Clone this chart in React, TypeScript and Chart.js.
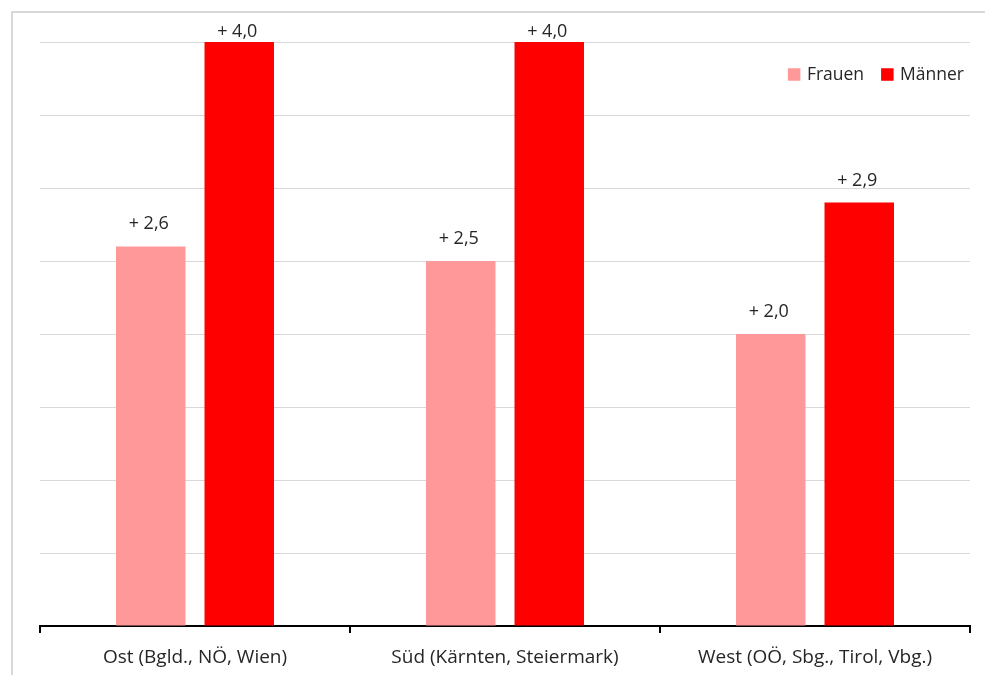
import React, { useEffect, useRef } from "react";
import { Chart, registerables } from "chart.js";

Chart.register(...registerables);

// Regions and the increase per series
const regions = [
  "Ost (Bgld., NÖ, Wien)",
  "Süd (Kärnten, Steiermark)",
  "West (OÖ, Sbg., Tirol, Vbg.)",
];
const frauen = [2.6, 2.5, 2.0];
const maenner = [4.0, 4.0, 2.9];
const seriesNames = ["Frauen", "Männer"];
const seriesColors = ["#FF9999", "#FF0000"];
const yMax = 4;
const yStep = 0.5;

const FONT = "'Open Sans', 'Noto Sans', sans-serif";
const TEXT = "#262626";

const fmt = (v: number) => "+ " + v.toFixed(1).replace(".", ",");

// Signed value above each bar, kept inside the frame near the top
const valueLabels = {
  id: "valueLabels",
  afterDatasetsDraw(chart: any) {
    const { ctx, chartArea } = chart;
    ctx.save();
    ctx.font = `18px ${FONT}`;
    ctx.fillStyle = TEXT;
    ctx.textAlign = "center";
    ctx.textBaseline = "alphabetic";
    chart.data.datasets.forEach((ds: any, i: number) => {
      chart.getDatasetMeta(i).data.forEach((bar: any, j: number) => {
        const y = Math.max(bar.y - 17, chartArea.top - 5);
        ctx.fillText(fmt(ds.data[j]), bar.x - 2, y);
      });
    });
    ctx.restore();
  },
};

// Compact legend in the upper right corner of the plot
const cornerLegend = {
  id: "cornerLegend",
  afterDraw(chart: any) {
    const { ctx, chartArea } = chart;
    ctx.save();
    ctx.font = `17.5px ${FONT}`;
    const box = 12.5;
    const gapText = 6.5;
    const gapItem = 17;
    const items = chart.data.datasets.map((ds: any) => ({
      label: ds.label,
      color: ds.backgroundColor,
      w: ctx.measureText(ds.label).width,
    }));
    const total =
      items.reduce((s: number, it: any) => s + box + gapText + it.w, 0) +
      gapItem * (items.length - 1);
    let x = chartArea.right - 6 - total;
    const cy = chartArea.top + 32.5;
    ctx.textBaseline = "middle";
    ctx.textAlign = "left";
    items.forEach((it: any) => {
      ctx.fillStyle = it.color;
      ctx.fillRect(x, cy - box / 2, box, box);
      x += box + gapText;
      ctx.fillStyle = TEXT;
      ctx.fillText(it.label, x, cy + 1);
      x += it.w + gapItem;
    });
    ctx.restore();
  },
};

export default function App() {
  const ref = useRef<HTMLCanvasElement | null>(null);

  useEffect(() => {
    if (!ref.current) return;
    const chart = new Chart(ref.current, {
      type: "bar",
      data: {
        labels: regions,
        datasets: [
          {
            label: seriesNames[0],
            data: frauen,
            backgroundColor: seriesColors[0],
            categoryPercentage: 0.571,
            barPercentage: 0.785,
          },
          {
            label: seriesNames[1],
            data: maenner,
            backgroundColor: seriesColors[1],
            categoryPercentage: 0.571,
            barPercentage: 0.785,
          },
        ],
      },
      options: {
        animation: false,
        responsive: false,
        layout: { padding: { top: 42, left: 40, right: 15, bottom: 0 } },
        plugins: {
          legend: { display: false },
          tooltip: { enabled: false },
        },
        scales: {
          x: {
            offset: true,
            grid: {
              offset: true,
              drawOnChartArea: false,
              drawTicks: true,
              tickLength: 7,
              color: "#000000",
              lineWidth: 2,
            },
            border: { display: true, color: "#000000", width: 2 },
            ticks: {
              color: TEXT,
              font: { family: FONT, size: 19 },
              padding: 13,
              maxRotation: 0,
              autoSkip: false,
            },
            afterFit: (s: any) => {
              s.height = 49;
            },
          },
          y: {
            min: 0,
            max: yMax,
            ticks: { display: false, stepSize: yStep },
            grid: { color: "#d9d9d9", lineWidth: 1, drawTicks: false },
            border: { display: false },
            afterFit: (s: any) => {
              s.width = 0;
            },
          },
        },
      },
      plugins: [valueLabels, cornerLegend],
    });
    return () => chart.destroy();
  }, []);

  return (
    <div
      style={{
        position: "fixed",
        left: 0,
        top: 0,
        width: 985,
        height: 675,
        overflow: "hidden",
        background: "#ffffff",
      }}
    >
      <div
        style={{
          position: "absolute",
          left: 11,
          top: 11,
          width: 1100,
          height: 800,
          border: "2px solid #d9d9d9",
          boxSizing: "border-box",
        }}
      />
      <canvas
        ref={ref}
        width={985}
        height={675}
        style={{ position: "absolute", left: 0, top: 0 }}
      />
    </div>
  );
}
